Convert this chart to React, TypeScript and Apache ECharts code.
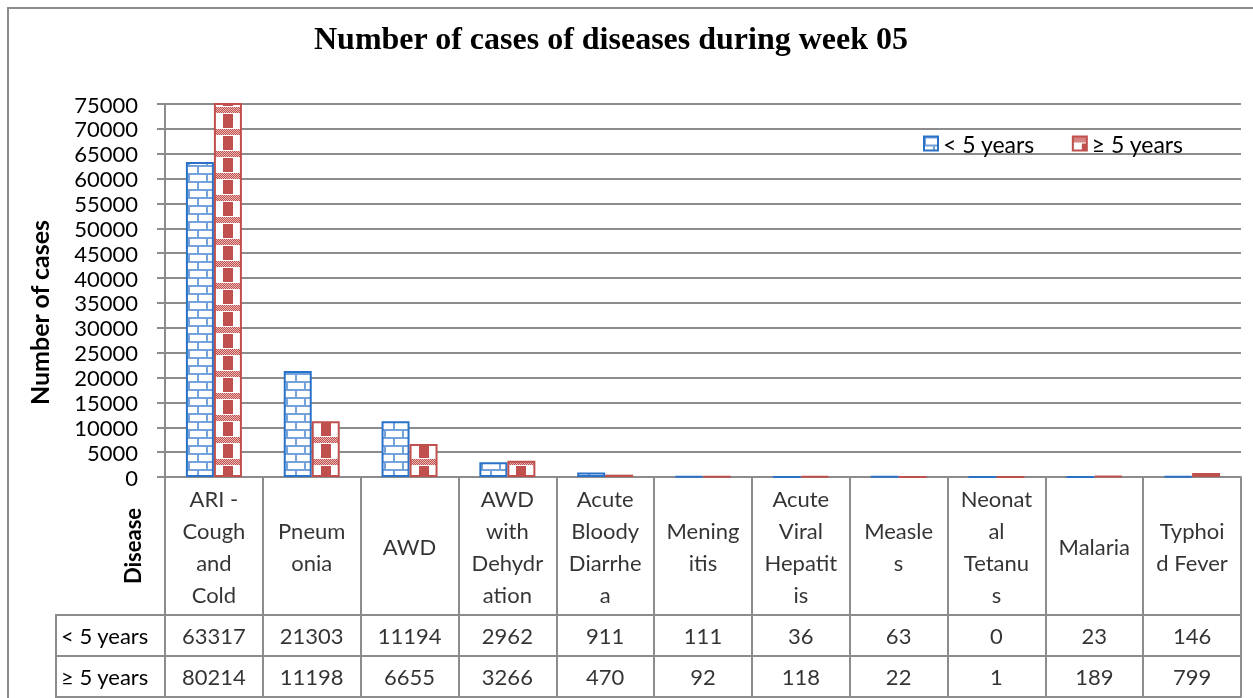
import React, { useEffect, useRef } from 'react';
import * as echarts from 'echarts';

const categories = [
  'ARI - Cough and Cold', 'Pneumonia', 'AWD', 'AWD with Dehydration', 'Acute Bloody Diarrhea',
  'Meningitis', 'Acute Viral Hepatitis', 'Measles', 'Neonatal Tetanus', 'Malaria', 'Typhoid Fever',
];
const headerLabels = [
  'ARI -\nCough\nand\nCold', 'Pneum\nonia', 'AWD', 'AWD\nwith\nDehydr\nation', 'Acute\nBloody\nDiarrhe\na',
  'Mening\nitis', 'Acute\nViral\nHepatit\nis', 'Measle\ns', 'Neonat\nal\nTetanu\ns', 'Malaria', 'Typhoi\nd Fever',
];
const seriesNames = ['< 5 years', '≥ 5 years'];
const under5 = [63317, 21303, 11194, 2962, 911, 111, 36, 63, 0, 23, 146];
const over5 = [80214, 11198, 6655, 3266, 470, 92, 118, 22, 1, 189, 799];
const yMin = 0;
const yMax = 75000;
const yInterval = 5000;

const GRID = '#8c8c8c';
const FONT = 'Lato, "Open Sans", sans-serif';
const BLUE = '#2a72c8';
const RED = '#c0504d';

function makeBrick(): HTMLCanvasElement {
  const c = document.createElement('canvas');
  c.width = 18; c.height = 16;
  const g = c.getContext('2d')!;
  g.fillStyle = '#ffffff'; g.fillRect(0, 0, 18, 16);
  g.fillStyle = '#74a3db';
  g.fillRect(0, 0, 18, 2); g.fillRect(0, 8, 18, 2);
  g.fillRect(0, 2, 2, 6); g.fillRect(9, 10, 2, 6);
  return c;
}
function makeCheck(): HTMLCanvasElement {
  const c = document.createElement('canvas');
  c.width = 28; c.height = 22;
  const g = c.getContext('2d')!;
  g.fillStyle = '#ffffff'; g.fillRect(0, 0, 28, 22);
  g.fillStyle = '#eab9b8';
  g.fillRect(0, 0, 28, 6);
  g.fillStyle = RED;
  for (let y = 0; y < 6; y++) for (let x = 0; x < 28; x++) if ((x + y) % 2 === 0) g.fillRect(x, y, 1, 1);
  g.fillRect(9, 7, 10, 14);
  return c;
}
// tile shifted so that its origin lands at absolute pixel (ox, oy)
function shifted(base: HTMLCanvasElement, ox: number, oy: number): HTMLCanvasElement {
  const w = base.width, h = base.height;
  const dx = ((Math.round(ox) % w) + w) % w;
  const dy = ((Math.round(oy) % h) + h) % h;
  const c = document.createElement('canvas');
  c.width = w; c.height = h;
  const g = c.getContext('2d')!;
  for (const sx of [dx, dx - w]) for (const sy of [dy, dy - h]) g.drawImage(base, sx, sy);
  return c;
}

export default function App() {
  const ref = useRef<HTMLDivElement>(null);
  useEffect(() => {
    if (!ref.current) return;
    const chart = echarts.init(ref.current, null, { renderer: 'svg' });
    const brick = makeBrick();
    const check = makeCheck();
    const pat = (img: HTMLCanvasElement) => ({
      image: img, repeat: 'repeat', imageWidth: img.width, imageHeight: img.height,
    });
    const axisLine = { show: true, lineStyle: { color: GRID, width: 2 } };
    const splitLine = { show: true, interval: 0, lineStyle: { color: GRID, width: 2 } };
    const option: any = {
      animation: false,
      textStyle: { fontFamily: FONT },
      title: {
        text: 'Number of cases of diseases during week 05', left: 309, top: 17,
        textStyle: { fontFamily: '"Liberation Serif", "Times New Roman", serif', fontWeight: 'bold', fontSize: 32, color: '#000' },
      },
      legend: {
        data: seriesNames, left: 918, top: 127, itemGap: 37, itemWidth: 14, itemHeight: 14, icon: 'rect',
        textStyle: { fontFamily: FONT, fontSize: 23, color: '#000' },
      },
      graphic: [{
        type: 'rect', silent: true, z: -10,
        shape: { x: 8, y: 8, width: 1300, height: 760 },
        style: { fill: 'none', stroke: GRID, lineWidth: 2 },
      }],
      grid: [
        { left: 165, right: 12, top: 104, height: 373 },
        { left: 165, right: 12, top: 477, height: 138 },
        { left: 165, right: 12, top: 615, height: 82 },
      ],
      xAxis: [
        { type: 'category', gridIndex: 0, data: categories, axisLine, axisTick: { show: false }, axisLabel: { show: false }, splitLine: { show: false } },
        { type: 'category', gridIndex: 1, data: categories, axisLine, axisTick: { show: false }, axisLabel: { show: false, interval: 0 }, splitLine },
        { type: 'category', gridIndex: 2, data: categories, axisLine, axisTick: { show: false }, axisLabel: { show: false, interval: 0 }, splitLine },
      ],
      yAxis: [
        {
          type: 'value', gridIndex: 0, min: yMin, max: yMax, interval: yInterval,
          name: 'Number of cases', nameLocation: 'middle', nameGap: 114, nameRotate: 90,
          nameTextStyle: { fontFamily: FONT, fontSize: 25, fontWeight: 'bold', color: '#000', padding: [0, 44, 0, 0] },
          axisLine, axisTick: { show: true, length: 8, lineStyle: { color: GRID, width: 2 } },
          axisLabel: { margin: 27, fontSize: 22, color: '#000', fontFamily: FONT, formatter: (v: number) => String(v) },
          splitLine: { show: true, lineStyle: { color: GRID, width: 2 } },
        },
        {
          type: 'value', gridIndex: 1, min: 0, max: 1,
          name: 'Disease', nameLocation: 'middle', nameGap: 22, nameRotate: 90,
          nameTextStyle: { fontFamily: FONT, fontSize: 22, fontWeight: 'bold', color: '#000' },
          axisLine: { show: false }, axisTick: { show: false }, axisLabel: { show: false }, splitLine: { show: false },
        },
        {
          type: 'category', gridIndex: 2, data: seriesNames, inverse: true,
          axisLine: { show: false }, axisTick: { show: false }, splitLine,
          axisLabel: {
            margin: 0, interval: 0,
            formatter: (v: string) => `{c|${v}}`,
            rich: {
              c: {
                width: 104, height: 41, lineHeight: 41, padding: [0, 0, 0, 5], align: 'left',
                borderColor: GRID, borderWidth: 2, fontSize: 22, color: '#000', fontFamily: FONT,
              },
            },
          },
        },
      ],
      series: [
        {
          name: seriesNames[0], type: 'bar', xAxisIndex: 0, yAxisIndex: 0, data: under5,
          barWidth: 28, barGap: '0%', clip: true,
          itemStyle: { color: pat(brick), borderColor: BLUE, borderWidth: 2 },
          emphasis: { disabled: true },
        },
        {
          name: seriesNames[1], type: 'bar', xAxisIndex: 0, yAxisIndex: 0, data: over5,
          barWidth: 28, barGap: '0%', clip: true,
          itemStyle: { color: pat(check), borderColor: RED, borderWidth: 2 },
          emphasis: { disabled: true },
        },
        {
          name: 'header', type: 'scatter', xAxisIndex: 1, yAxisIndex: 1, silent: true,
          symbolSize: 1, itemStyle: { color: 'rgba(0,0,0,0)' },
          data: categories.map((_, i) => [i, 0.5]),
          label: {
            show: true, position: 'inside', fontFamily: FONT, fontSize: 22, lineHeight: 32, color: '#000', align: 'center',
            formatter: (p: any) => headerLabels[p.dataIndex],
          },
        },
        {
          name: 'values', type: 'scatter', xAxisIndex: 2, yAxisIndex: 2, silent: true,
          symbolSize: 1, itemStyle: { color: 'rgba(0,0,0,0)' },
          data: [
            ...under5.map((v, i) => [i, 0, v]),
            ...over5.map((v, i) => [i, 1, v]),
          ],
          label: {
            show: true, position: 'inside', fontFamily: FONT, fontSize: 22, color: '#000',
            formatter: (p: any) => String(p.value[2]),
          },
        },
      ],
    };
    chart.setOption(option);
    const zeroY = chart.convertToPixel({ yAxisIndex: 0 }, 0) as number;
    const blueData = under5.map((v, i) => {
      const cx = chart.convertToPixel({ xAxisIndex: 0 }, i) as number;
      return { value: v, itemStyle: { color: pat(shifted(brick, cx - 26, zeroY)) } };
    });
    const redData = over5.map((v, i) => {
      const cx = chart.convertToPixel({ xAxisIndex: 0 }, i) as number;
      return { value: v, itemStyle: { color: pat(shifted(check, cx, zeroY + 4)) } };
    });
    chart.setOption({ series: [{ data: blueData }, { data: redData }] });
    return () => chart.dispose();
  }, []);
  return <div ref={ref} style={{ position: 'fixed', left: 0, top: 0, width: 1253, height: 698 }} />;
}
